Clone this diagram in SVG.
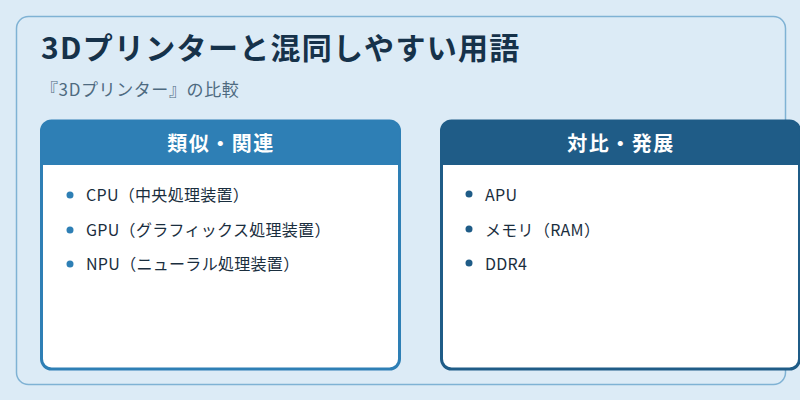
<svg xmlns="http://www.w3.org/2000/svg" width="800" height="400" viewBox="0 0 800 400">
<style>
text{font-family:"Noto Sans CJK JP","Noto Sans",sans-serif}
.h{font-size:20px;font-weight:bold;fill:#fff;letter-spacing:1.5px}
.i{font-size:16px;fill:#1a2e3e;letter-spacing:0.3px}
</style>
<rect width="800" height="400" fill="#dcebf6"/>
<rect x="16.5" y="16.5" width="769" height="368" rx="12" fill="#dcebf6" stroke="#7fb2d4" stroke-width="1.5"/>
<text x="41" y="59" font-size="30" font-weight="bold" fill="#16324a" letter-spacing="1.3">3Dプリンターと混同しやすい用語</text>
<text x="41" y="96" font-size="17" fill="#4e6a80" letter-spacing="0.6">『3Dプリンター』の比較</text>
<g id="related">
<rect x="41.5" y="121" width="358" height="248" rx="10" fill="#fff" stroke="#2e7fb5" stroke-width="3"/>
<path d="M41.5 165V131a10 10 0 0 1 10-10h338a10 10 0 0 1 10 10v34z" fill="#2e7fb5"/>
<text class="h" x="221" y="151" text-anchor="middle">類似・関連</text>
<g fill="#2e7fb5"><circle cx="70" cy="195" r="3.5"/><circle cx="70" cy="230" r="3.5"/><circle cx="70" cy="264" r="3.5"/></g>
<text class="i" x="86" y="201">CPU（中央処理装置）</text>
<text class="i" x="86" y="236">GPU（グラフィックス処理装置）</text>
<text class="i" x="86" y="270">NPU（ニューラル処理装置）</text>
</g>
<g id="contrast">
<rect x="441.5" y="121" width="358" height="248" rx="10" fill="#fff" stroke="#1f5c87" stroke-width="3"/>
<path d="M441.5 165V131a10 10 0 0 1 10-10h338a10 10 0 0 1 10 10v34z" fill="#1f5c87"/>
<text class="h" x="621" y="151" text-anchor="middle">対比・発展</text>
<g fill="#1f5c87"><circle cx="469" cy="194" r="3.5"/><circle cx="469" cy="229" r="3.5"/><circle cx="469" cy="263" r="3.5"/></g>
<text class="i" x="485" y="201">APU</text>
<text class="i" x="485" y="236">メモリ（RAM）</text>
<text class="i" x="485" y="270">DDR4</text>
</g>
</svg>
